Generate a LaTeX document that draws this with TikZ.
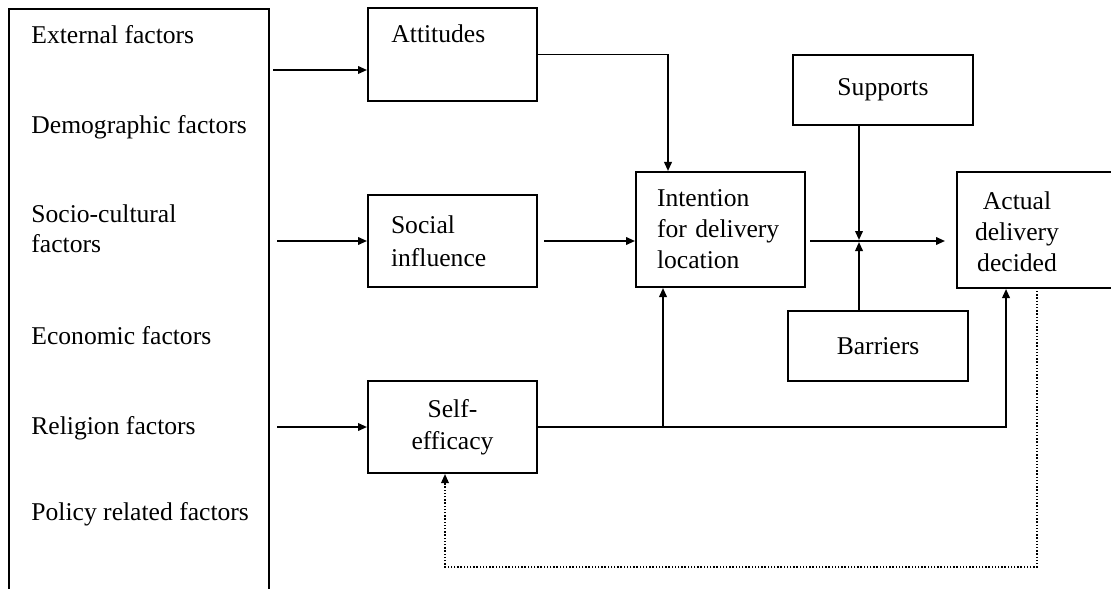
\documentclass[tikz,border=0pt]{standalone}
\usepackage{fontspec}
\setmainfont{Liberation Serif}
\usetikzlibrary{arrows.meta}
\begin{document}
\begin{tikzpicture}[x=0.5pt,y=-0.5pt,
  font=\fontsize{12.8}{15.5}\selectfont,
  box/.style={draw,line width=1pt,rectangle,inner sep=0pt},
  txt/.style={inner sep=0pt},
  arr/.style={line width=0.9pt,-{Triangle[length=4.5pt,width=3.8pt]}},
  dotarr/.style={line width=0.8pt,dash pattern=on 0.7pt off 0.9pt,-{Triangle[length=4.5pt,width=3.8pt]}}]
\useasboundingbox (0,0) rectangle (1111,588);
% left factor box
\node[box,minimum width=130pt,minimum height=295.5pt] (fac) at (139,304.5) {};
\node[txt,anchor=base west] (f1) at (31,44) {External factors};
\node[txt,anchor=base west] (f2) at (31,134) {Demographic factors};
\node[txt,anchor=base west] (f3) at (31,222) {Socio-cultural};
\node[txt,anchor=base west] (f3b) at (31,252) {factors};
\node[txt,anchor=base west] (f4) at (31,344) {Economic factors};
\node[txt,anchor=base west] (f5) at (31,434) {Religion factors};
\node[txt,anchor=base west] (f6) at (31,520) {Policy related factors};
% middle boxes
\node[box,minimum width=84.5pt,minimum height=46.5pt] (att) at (452.5,54.5) {};
\node[txt,anchor=base west] (attt) at (391,43) {Attitudes};
\node[box,minimum width=84.5pt,minimum height=46pt,text width=61.5pt,inner xsep=11.5pt,align=left,
  font=\fontsize{12.8}{16.5}\selectfont] (soc) at (452.5,241) {Social\\influence};
\node[box,minimum width=84.5pt,minimum height=46pt,align=center,
  font=\fontsize{12.8}{16}\selectfont] (self) at (452.5,427) {Self-\\efficacy};
\node[box,minimum width=84.5pt,minimum height=57.5pt,text width=63.5pt,inner xsep=10.5pt,align=left] (int) at (720.5,229.5) {Intention\\for delivery\\location};
\node[box,minimum width=90pt,minimum height=35pt] (sup) at (883,90) {Supports};
\node[box,minimum width=90pt,minimum height=35pt] (bar) at (878,346) {Barriers};
\node[box,minimum width=84pt,minimum height=58pt] (act) at (1041,230) {};
\node[txt,align=center,font=\fontsize{12.8}{15.5}\selectfont] (actt) at (1017,232) {Actual\\delivery\\decided};
% helper coordinates
\coordinate (y70) at (0,70);
\coordinate (j) at (859,241);
\coordinate (intt) at ([xshift=-26.25pt]int.north);
\coordinate (intb) at ([xshift=-28.75pt]int.south);
\coordinate (actb) at ([xshift=25pt]act.south west);
\coordinate (actd) at ([xshift=40.5pt,yshift=-1pt]act.south west);
\coordinate (selfin) at ([xshift=-3.75pt]self.south);
\coordinate (dl) at (445,567);
% connectors
\draw[arr,shorten <=1.5pt] (fac.east |- y70) -- (att.west |- y70);
\draw[arr,shorten <=3.5pt] (fac.east |- soc.west) -- (soc.west);
\draw[arr,shorten <=3.5pt] (fac.east |- self.west) -- (self.west);
\draw[arr] (att.east) -| (intt);
\draw[arr,shorten <=3pt] (soc.east) -- (int.west |- soc.east);
\draw[arr,shorten <=2pt,shorten >=5.5pt] (int.east |- soc.east) -- (act.west |- soc.east);
\draw[arr,shorten >=0.5pt] (sup.south -| j) -- (j);
\draw[arr,shorten >=0.5pt] (bar.north -| j) -- (j);
\draw[arr] (self.east) -| (actb);
\draw[arr] (self.east -| intb) -- (intb);
\draw[dotarr] (actd) |- (dl) -- (selfin);
\end{tikzpicture}
\end{document}
